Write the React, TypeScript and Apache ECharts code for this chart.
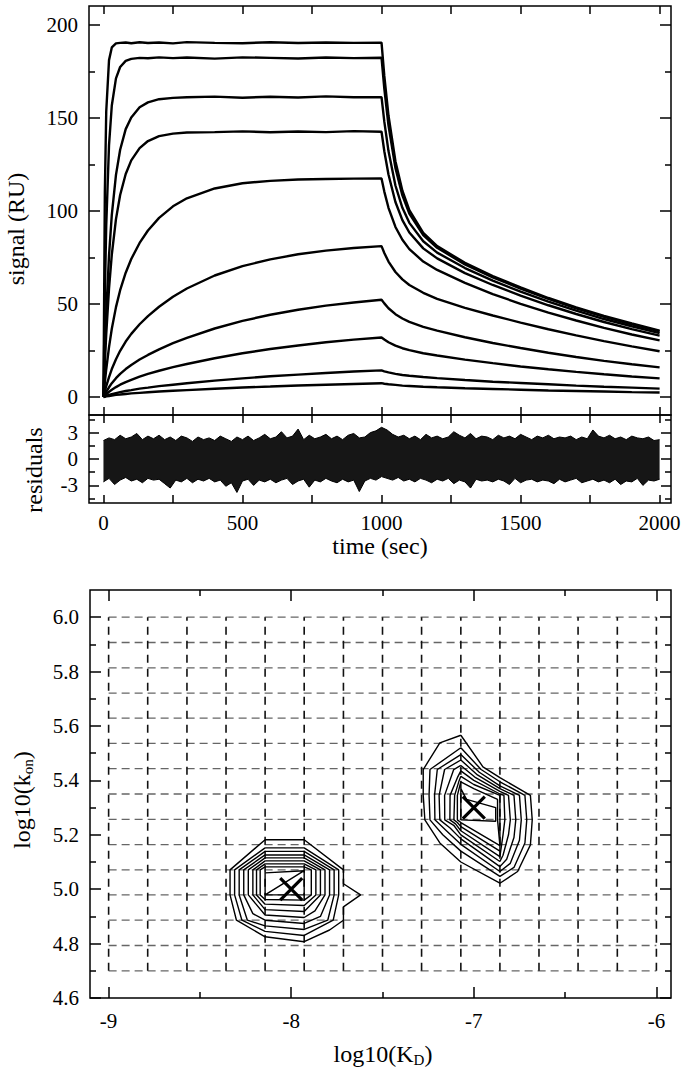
import { useEffect, useRef } from 'react';
import * as echarts from 'echarts';

const FONT = 'Liberation Serif';

// ---------- sensorgram (top panel) ----------
const times = [0, 5, 10, 20, 30, 45, 60, 80, 100, 130, 160, 200, 250, 300, 400, 500, 600, 700, 800, 900, 1000, 1010, 1025, 1050, 1075, 1100, 1150, 1200, 1300, 1400, 1500, 1600, 1700, 1800, 1900, 2000];
const curve1 = [0, 110.4, 153.6, 181.1, 187.9, 190.1, 190.4, 190.6, 190.2, 190.7, 190.3, 190.6, 190.1, 190.8, 190.4, 190.2, 190.7, 190.3, 190.6, 190.4, 190.5, 172.6, 151.3, 126.7, 110.9, 100.5, 88.2, 81.1, 72.1, 65.0, 58.9, 53.2, 48.2, 43.6, 39.5, 35.7];
const curve2 = [0, 55.2, 92.3, 135.4, 156.7, 171.3, 177.4, 180.7, 181.8, 182.3, 182.1, 182.6, 182.2, 182.5, 181.9, 182.6, 182.3, 182.0, 182.5, 182.2, 182.4, 165.8, 146.0, 123.1, 108.4, 98.6, 87.0, 80.2, 71.3, 64.3, 58.3, 52.7, 47.7, 43.1, 39.1, 35.3];
const curve3 = [0, 24.7, 45.1, 76.1, 97.9, 119.4, 132.9, 144.0, 150.3, 155.8, 158.4, 160.1, 160.8, 161.1, 161.5, 160.9, 161.4, 161.0, 161.6, 161.1, 161.2, 148.0, 132.2, 113.7, 101.7, 93.6, 83.7, 77.6, 69.3, 62.5, 56.6, 51.2, 46.4, 41.9, 38.0, 34.3];
const curve4 = [0, 18.3, 33.9, 58.4, 76.5, 95.6, 108.6, 119.9, 127.2, 133.8, 137.6, 140.2, 141.6, 142.2, 142.4, 142.8, 142.3, 142.7, 142.4, 142.9, 142.6, 132.1, 119.6, 104.8, 95.1, 88.4, 79.9, 74.5, 66.6, 60.2, 54.5, 49.3, 44.6, 40.3, 36.5, 33.0];
const curve5 = [0, 7.9, 14.9, 26.8, 36.7, 48.3, 57.4, 66.8, 74.2, 82.8, 89.5, 96.3, 102.5, 106.8, 112.1, 114.9, 116.2, 116.9, 117.2, 117.4, 117.5, 110.4, 101.7, 91.4, 84.5, 79.5, 72.8, 68.3, 61.3, 55.3, 50.1, 45.3, 41.1, 37.1, 33.6, 30.4];
const curve6 = [0, 3.1, 5.8, 10.7, 15.0, 20.3, 24.8, 29.8, 33.9, 39.1, 43.5, 48.5, 53.9, 58.3, 65.3, 70.3, 74.0, 76.7, 78.7, 80.1, 81.1, 77.4, 72.8, 67.2, 63.2, 60.2, 56.0, 52.7, 47.9, 43.8, 40.0, 36.4, 33.1, 30.0, 27.2, 24.6];
const curve7 = [0, 1.4, 2.8, 5.2, 7.4, 10.1, 12.4, 15.0, 17.2, 20.1, 22.6, 25.6, 28.9, 31.8, 36.8, 40.9, 44.2, 46.9, 49.1, 50.8, 52.3, 50.3, 47.7, 44.5, 42.2, 40.4, 37.7, 35.7, 32.1, 29.0, 26.3, 23.8, 21.5, 19.4, 17.6, 15.9];
const curve8 = [0, 0.8, 1.4, 2.7, 3.9, 5.3, 6.6, 8.0, 9.2, 10.9, 12.4, 14.1, 16.0, 17.7, 20.8, 23.5, 25.8, 27.7, 29.4, 30.8, 32.0, 30.9, 29.4, 27.6, 26.2, 25.2, 23.5, 22.3, 20.1, 18.2, 16.4, 14.9, 13.5, 12.2, 11.0, 10.0];
const curve9 = [0, 0.3, 0.6, 1.1, 1.5, 2.1, 2.6, 3.2, 3.7, 4.5, 5.0, 5.8, 6.6, 7.4, 8.8, 10.0, 11.1, 12.0, 12.9, 13.7, 14.3, 13.8, 13.2, 12.4, 11.8, 11.4, 10.7, 10.1, 9.1, 8.2, 7.5, 6.8, 6.1, 5.5, 5.0, 4.5];
const curve10 = [0, 0.1, 0.3, 0.5, 0.8, 1.1, 1.3, 1.6, 1.9, 2.2, 2.5, 2.9, 3.3, 3.7, 4.4, 5.1, 5.6, 6.2, 6.6, 7.0, 7.4, 7.1, 6.8, 6.5, 6.1, 5.9, 5.5, 5.2, 4.7, 4.3, 3.9, 3.5, 3.2, 2.9, 2.6, 2.4];
const curves = [curve1, curve2, curve3, curve4, curve5, curve6, curve7, curve8, curve9, curve10];

const timeTicks = [0, 250, 500, 750, 1000, 1250, 1500, 1750, 2000];
const timeLabels = [0, 500, 1000, 1500, 2000];
const signalMajor = [0, 50, 100, 150, 200];
const signalMinor = [25, 75, 125, 175];

// ---------- residuals ----------
const residStep = 20; // seconds between envelope samples
const residUpper = [
  2.1, 2.4, 2.2, 2.7, 2.3, 2.5, 2.9, 2.2, 2.6, 2.3,
  2.7, 2.2, 2.5, 2.1, 2.6, 2.4, 2.0, 2.5, 2.2, 2.4,
  2.1, 2.6, 2.3, 2.0, 2.5, 2.2, 2.6, 2.1, 2.4, 2.8,
  2.3, 2.5, 3.1, 2.4, 2.6, 3.4, 2.2, 2.7, 2.3, 2.5,
  2.8, 2.3, 2.6, 2.2, 2.7, 2.9, 2.4, 2.5, 3.0, 3.2,
  3.6, 3.3, 2.8, 2.5, 2.7, 2.3, 2.6, 2.2, 2.8, 2.4,
  2.6, 2.3, 2.5, 3.1, 2.7, 2.4, 2.9, 2.3, 2.6, 2.5,
  2.2, 2.7, 2.4, 2.6, 2.3, 2.8, 2.5, 2.2, 2.6, 2.4,
  2.7, 2.3, 2.5, 2.4, 2.6, 2.2, 2.5, 2.3, 3.3, 2.6,
  2.4, 2.7, 2.3, 2.5, 2.2, 2.6, 2.4, 2.3, 2.5, 2.1,
  2.2,
];
const residLower = [
  -2.6, -2.2, -2.9, -2.4, -2.1, -2.5, -2.3, -2.7, -2.2, -2.4,
  -2.3, -2.8, -3.3, -2.4, -2.6, -2.2, -2.7, -2.3, -2.5, -2.2,
  -2.6, -2.4, -3.1, -2.7, -3.8, -2.5, -2.3, -3.0, -2.4, -2.6,
  -2.3, -2.7, -2.4, -2.2, -2.9, -2.5, -2.3, -3.2, -2.4, -2.6,
  -2.2, -2.5, -2.7, -2.3, -2.6, -2.4, -3.7, -2.5, -2.2, -2.4,
  -2.0, -2.2, -2.4, -2.1, -2.5, -2.3, -2.6, -2.2, -2.4, -2.7,
  -2.3, -2.5, -2.2, -2.8, -2.4, -2.6, -3.3, -2.3, -2.5, -2.4,
  -2.6, -2.3, -2.5, -2.9, -2.2, -2.7, -2.4, -2.3, -2.6, -2.4,
  -2.5, -2.8, -2.3, -2.6, -2.4, -2.2, -2.7, -2.5, -2.3, -2.6,
  -2.4, -2.7, -2.3, -2.9, -2.5, -2.6, -2.2, -3.0, -2.4, -2.5,
  -2.3,
];
const residMajor = [-3, 0, 3];
const residMinor = [-4.5, -1.5, 1.5, 4.5];

// ---------- error surface (bottom panel) ----------
const kdGrid = [-9, -8.786, -8.571, -8.357, -8.143, -7.929, -7.714, -7.5, -7.286, -7.071, -6.857, -6.643, -6.429, -6.214, -6];
const kaGrid = [4.7, 4.793, 4.886, 4.979, 5.071, 5.164, 5.257, 5.35, 5.443, 5.536, 5.629, 5.721, 5.814, 5.907, 6.0];
const kdMajor = [-9, -8, -7, -6];
const kdMinor = [-8.5, -7.5, -6.5];
const kaMajor = [4.6, 4.8, 5.0, 5.2, 5.4, 5.6, 5.8, 6.0];
const kaMinor = [4.7, 4.9, 5.1, 5.3, 5.5, 5.7, 5.9];
const bestFits = [[-8.0, 5.0], [-7.0, 5.3]];

const leftContours = [
  [[-8.143, 5.182], [-7.929, 5.182], [-7.714, 5.071], [-7.714, 5.02], [-7.62, 4.979], [-7.714, 4.935], [-7.714, 4.886], [-7.79, 4.85], [-7.929, 4.807], [-8.143, 4.825], [-8.30, 4.886], [-8.335, 4.979], [-8.335, 5.071], [-8.143, 5.182]],
  [[-8.143, 5.152], [-7.929, 5.152], [-7.74, 5.071], [-7.74, 4.979], [-7.77, 4.886], [-7.929, 4.83], [-8.143, 4.845], [-8.27, 4.886], [-8.31, 4.979], [-8.31, 5.071], [-8.143, 5.152]],
  [[-8.143, 5.139], [-7.929, 5.139], [-7.765, 5.071], [-7.765, 4.979], [-7.80, 4.886], [-7.929, 4.852], [-8.143, 4.865], [-8.24, 4.886], [-8.285, 4.979], [-8.285, 5.071], [-8.143, 5.139]],
  [[-8.143, 5.126], [-7.929, 5.126], [-7.79, 5.071], [-7.79, 4.979], [-7.84, 4.9], [-7.929, 4.874], [-8.143, 4.886], [-8.21, 4.91], [-8.26, 4.979], [-8.26, 5.071], [-8.143, 5.126]],
  [[-8.143, 5.115], [-7.929, 5.115], [-7.815, 5.071], [-7.815, 4.979], [-7.87, 4.92], [-7.929, 4.896], [-8.143, 4.905], [-8.235, 4.979], [-8.235, 5.071], [-8.143, 5.115]],
  [[-8.143, 5.104], [-7.929, 5.104], [-7.84, 5.071], [-7.84, 4.979], [-7.929, 4.918], [-8.143, 4.925], [-8.21, 4.979], [-8.21, 5.071], [-8.143, 5.104]],
  [[-8.143, 5.093], [-7.929, 5.093], [-7.865, 5.071], [-7.865, 4.979], [-7.929, 4.94], [-8.143, 4.945], [-8.19, 4.979], [-8.19, 5.071], [-8.143, 5.093]],
  [[-8.143, 5.082], [-7.929, 5.082], [-7.89, 5.071], [-7.89, 4.979], [-7.929, 4.96], [-8.143, 4.962], [-8.17, 4.979], [-8.17, 5.071], [-8.143, 5.082]],
  [[-7.929, 5.068], [-8.143, 5.06], [-8.143, 4.979], [-7.929, 4.979], [-7.929, 5.068], [-8.143, 4.979]],
];
const rightContours = [
  [[-7.071, 5.566], [-6.95, 5.45], [-6.857, 5.41], [-6.69, 5.345], [-6.68, 5.255], [-6.69, 5.163], [-6.76, 5.065], [-6.857, 5.022], [-7.071, 5.10], [-7.186, 5.17], [-7.268, 5.255], [-7.277, 5.345], [-7.277, 5.44], [-7.186, 5.538], [-7.071, 5.566]],
  [[-7.071, 5.52], [-6.96, 5.44], [-6.857, 5.395], [-6.72, 5.345], [-6.71, 5.255], [-6.72, 5.17], [-6.78, 5.08], [-6.857, 5.047], [-7.071, 5.14], [-7.17, 5.2], [-7.24, 5.255], [-7.245, 5.345], [-7.24, 5.44], [-7.071, 5.52]],
  [[-7.071, 5.495], [-6.97, 5.43], [-6.857, 5.38], [-6.75, 5.345], [-6.74, 5.255], [-6.75, 5.18], [-6.80, 5.095], [-6.857, 5.065], [-7.071, 5.165], [-7.15, 5.215], [-7.213, 5.255], [-7.215, 5.345], [-7.20, 5.44], [-7.071, 5.495]],
  [[-7.071, 5.475], [-6.98, 5.42], [-6.857, 5.37], [-6.78, 5.345], [-6.77, 5.255], [-6.78, 5.19], [-6.82, 5.11], [-6.857, 5.083], [-7.071, 5.185], [-7.13, 5.225], [-7.186, 5.255], [-7.19, 5.345], [-7.16, 5.44], [-7.071, 5.475]],
  [[-7.071, 5.455], [-6.99, 5.41], [-6.857, 5.36], [-6.81, 5.345], [-6.80, 5.255], [-6.81, 5.2], [-6.84, 5.125], [-6.857, 5.102], [-7.071, 5.20], [-7.11, 5.235], [-7.159, 5.255], [-7.16, 5.345], [-7.11, 5.44], [-7.071, 5.455]],
  [[-7.071, 5.435], [-7.0, 5.4], [-6.857, 5.35], [-6.835, 5.345], [-6.83, 5.255], [-6.84, 5.2], [-6.857, 5.12], [-7.071, 5.215], [-7.10, 5.24], [-7.131, 5.255], [-7.13, 5.345], [-7.09, 5.41], [-7.071, 5.435]],
  [[-7.071, 5.415], [-7.0, 5.385], [-6.857, 5.345], [-6.857, 5.255], [-6.857, 5.14], [-7.071, 5.23], [-7.09, 5.245], [-7.109, 5.255], [-7.105, 5.345], [-7.08, 5.40], [-7.071, 5.415]],
  [[-7.071, 5.395], [-7.0, 5.37], [-6.87, 5.33], [-6.87, 5.255], [-6.857, 5.16], [-7.071, 5.245], [-7.09, 5.255], [-7.09, 5.345], [-7.071, 5.395]],
  [[-7.071, 5.37], [-7.04, 5.33], [-6.88, 5.30], [-6.88, 5.25], [-7.071, 5.255], [-7.071, 5.37]],
];

const tick = (values: number[], length: number) => ({
  show: true,
  inside: true,
  length,
  customValues: values,
  lineStyle: { color: '#000', width: 1.5 },
});
const label = (values: number[], margin: number, formatter?: (v: number) => string) => ({
  show: true,
  customValues: values,
  fontFamily: FONT,
  fontSize: 21,
  color: '#000',
  margin,
  formatter: formatter || ((v: number) => String(v)),
});
const ax = (gridIndex: number, position: string, min: number, max: number, axisTick: any, axisLabel?: any) => ({
  type: 'value',
  gridIndex,
  position,
  min,
  max,
  axisLine: { show: false, onZero: false },
  splitLine: { show: false },
  axisTick,
  axisLabel: axisLabel || { show: false },
});

export default function App() {
  const ref = useRef<HTMLDivElement>(null);

  useEffect(() => {
    document.body.style.margin = '0';
    if (!ref.current) return;
    const chart = echarts.init(ref.current, null, { renderer: 'svg' });

    const T0 = -52, T1 = 2041;
    const S0 = -9.7, S1 = 210.2;
    const K0 = -9.102, K1 = -5.92;
    const A0 = 4.6, A1 = 6.1;

    const xAxis = [
      ax(0, 'bottom', T0, T1, tick(timeTicks, 8)),
      ax(0, 'top', T0, T1, tick(timeTicks, 8)),
      ax(1, 'bottom', T0, T1, tick(timeTicks, 8), label(timeLabels, 9)),
      ax(1, 'top', T0, T1, tick(timeTicks, 8)),
      ax(2, 'bottom', K0, K1, tick(kdMajor, 11), label(kdMajor, 12)),
      ax(2, 'bottom', K0, K1, tick(kdMinor, 6)),
      ax(2, 'top', K0, K1, tick(kdMajor, 11)),
      ax(2, 'top', K0, K1, tick(kdMinor, 6)),
    ];
    const yAxis = [
      ax(0, 'left', S0, S1, tick(signalMajor, 11), label(signalMajor, 11)),
      ax(0, 'left', S0, S1, tick(signalMinor, 6)),
      ax(0, 'right', S0, S1, tick(signalMajor, 11)),
      ax(0, 'right', S0, S1, tick(signalMinor, 6)),
      ax(1, 'left', -5, 5, tick(residMajor, 10), label(residMajor, 11)),
      ax(1, 'left', -5, 5, tick(residMinor, 6)),
      ax(1, 'right', -5, 5, tick(residMajor, 10)),
      ax(1, 'right', -5, 5, tick(residMinor, 6)),
      ax(2, 'left', A0, A1, tick(kaMajor, 11), label(kaMajor, 11, (v: number) => v.toFixed(1))),
      ax(2, 'left', A0, A1, tick(kaMinor, 6)),
      ax(2, 'right', A0, A1, tick(kaMajor, 11)),
      ax(2, 'right', A0, A1, tick(kaMinor, 6)),
    ];

    const series: any[] = [];
    curves.forEach((c, i) => {
      series.push({
        type: 'line',
        name: 'conc ' + (i + 1),
        xAxisIndex: 0,
        yAxisIndex: 0,
        data: times.map((t, j) => [t, c[j]]),
        showSymbol: false,
        symbol: 'none',
        lineStyle: { color: '#000', width: 2.4 },
        silent: true,
      });
    });
    [residUpper, residLower].forEach((arr) => {
      series.push({
        type: 'line',
        xAxisIndex: 2,
        yAxisIndex: 4,
        data: arr.map((v, i) => [i * residStep, v]),
        showSymbol: false,
        symbol: 'none',
        lineStyle: { color: '#000', width: 1 },
        areaStyle: { color: '#161616', opacity: 1, origin: 0 },
        silent: true,
      });
    });
    kaGrid.forEach((ka) => {
      series.push({
        type: 'line',
        xAxisIndex: 4,
        yAxisIndex: 8,
        data: [[kdGrid[0], ka], [kdGrid[kdGrid.length - 1], ka]],
        showSymbol: false,
        symbol: 'none',
        lineStyle: { color: '#666', width: 1.3, type: [8, 5] },
        silent: true,
      });
    });
    kdGrid.forEach((kd) => {
      series.push({
        type: 'line',
        xAxisIndex: 4,
        yAxisIndex: 8,
        data: [[kd, kaGrid[0]], [kd, kaGrid[kaGrid.length - 1]]],
        showSymbol: false,
        symbol: 'none',
        lineStyle: { color: '#111', width: 1.6, type: [8, 6] },
        silent: true,
      });
    });
    [...leftContours, ...rightContours].forEach((poly) => {
      series.push({
        type: 'line',
        xAxisIndex: 4,
        yAxisIndex: 8,
        data: poly,
        showSymbol: false,
        symbol: 'none',
        lineStyle: { color: '#000', width: 1.4 },
        silent: true,
      });
    });
    series.push({
      type: 'scatter',
      xAxisIndex: 4,
      yAxisIndex: 8,
      data: bestFits,
      symbol: 'path://M0,0L10,10M10,0L0,10',
      symbolSize: 22,
      itemStyle: { color: 'rgba(0,0,0,0)', borderColor: '#000', borderWidth: 3.2, opacity: 1 },
      silent: true,
      z: 5,
    });

    const title = (text: string, x: number, y: number, rotate: boolean, rich?: any) => ({
      type: 'text',
      x,
      y,
      rotation: rotate ? Math.PI / 2 : 0,
      silent: true,
      style: {
        text,
        fill: '#000',
        fontFamily: FONT,
        fontSize: 24,
        align: 'center',
        verticalAlign: 'middle',
        textAlign: 'center',
        textVerticalAlign: 'middle',
        ...(rich ? { rich } : {}),
      },
    });
    const sub = { sub: { fontSize: 15, fontFamily: FONT, padding: [12, 0, 0, 0] } };

    const border = { show: true, borderColor: '#000', borderWidth: 1.5, backgroundColor: 'transparent', containLabel: false, outerBoundsMode: 'none' };

    chart.setOption({
      animation: false,
      backgroundColor: '#fff',
      textStyle: { fontFamily: FONT },
      grid: [
        { ...border, left: 89, top: 6, width: 582, height: 409 },
        { ...border, left: 89, top: 415, width: 582, height: 88 },
        { ...border, left: 90, top: 590, width: 581, height: 408 },
      ],
      xAxis,
      yAxis,
      series,
      graphic: [
        title('signal (RU)', 16, 229, true),
        title('residuals', 34, 470, true),
        title('time (sec)', 380, 546, false),
        title('log10(k{sub|on})', 22, 800, true, sub),
        title('log10(K{sub|D})', 383, 1054, false, sub),
      ],
    });

    return () => chart.dispose();
  }, []);

  return <div ref={ref} style={{ width: 681, height: 1079, background: '#fff' }} />;
}
